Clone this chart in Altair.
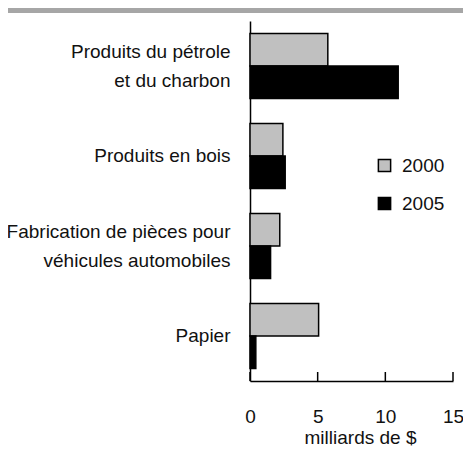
import altair as alt
import pandas as pd

categories = ["Produits du pétrole|et du charbon", "Produits en bois",
              "Fabrication de pièces pour|véhicules automobiles", "Papier"]
series = ["2000", "2005"]
v2000 = [5.75, 2.43, 2.2, 5.07]
v2005 = [10.95, 2.6, 1.52, 0.43]
x_ticks = [0, 5, 10, 15]

rows = []
for c, a, b in zip(categories, v2000, v2005):
    rows.append({"cat": c, "year": "2000", "value": a})
    rows.append({"cat": c, "year": "2005", "value": b})
df = pd.DataFrame(rows)

FONT = "Liberation Sans, Arial, sans-serif"
TXT = "#111111"
FS = 19

xscale = alt.Scale(domain=[0, 15], nice=False, zero=True)

bars = alt.Chart(df).mark_bar(stroke="black", strokeWidth=1.5).encode(
    x=alt.X("value:Q", scale=xscale,
            axis=alt.Axis(values=x_ticks, ticks=False, grid=False, title="milliards de $",
                          labelPadding=26, titlePadding=2, domainColor="black", domainWidth=1.5,
                          format="d", titleX=110, labelFlush=False)),
    y=alt.Y("cat:N", sort=categories,
            scale=alt.Scale(paddingInner=0.28, paddingOuter=0.14),
            axis=alt.Axis(title=None, ticks=False, labelExpr="split(datum.label, '|')",
                          labelLineHeight=29, labelPadding=20, domainColor="black",
                          domainWidth=1.5, labelLimit=0,
                          labelOffset={"condition": {"test": "indexof(datum.value, '|') >= 0",
                                                     "value": -14.5},
                                       "value": 0})),
    yOffset=alt.YOffset("year:N", sort=series),
    color=alt.Color("year:N", sort=series,
                    scale=alt.Scale(domain=series, range=["#c0c0c0", "#000000"]),
                    legend=alt.Legend(title=None, orient="none", legendX=125, legendY=135,
                                      symbolType="square", symbolSize=150,
                                      symbolStrokeColor="black", symbolStrokeWidth=1.5,
                                      labelFontSize=FS, labelOffset=8, rowPadding=18,
                                      labelFont=FONT, labelColor=TXT)),
)

ticks = alt.Chart(pd.DataFrame({"value": x_ticks})).mark_rule(color="black", strokeWidth=1.5).encode(
    x=alt.X("value:Q", scale=xscale),
    y=alt.value(351),
    y2=alt.value(360),
)

topline = alt.Chart(pd.DataFrame({"a": [0]})).mark_rule(color="#a6a6a6", strokeWidth=5).encode(
    x=alt.value(-242), x2=alt.value(213), y=alt.value(-10.5)
)

chart = alt.layer(bars, ticks, topline).properties(
    width=203, height=360,
    autosize=alt.AutoSizeParams(type="none"),
    padding={"left": 242, "top": 13, "right": 10, "bottom": 68},
).configure_view(stroke=None).configure_axis(
    labelFont=FONT, titleFont=FONT, labelFontSize=FS, titleFontSize=FS,
    titleFontWeight="normal", labelColor=TXT, titleColor=TXT,
).configure_legend(labelFont=FONT)

chart.save("out.html", embed_options={"renderer": "svg", "actions": False})
